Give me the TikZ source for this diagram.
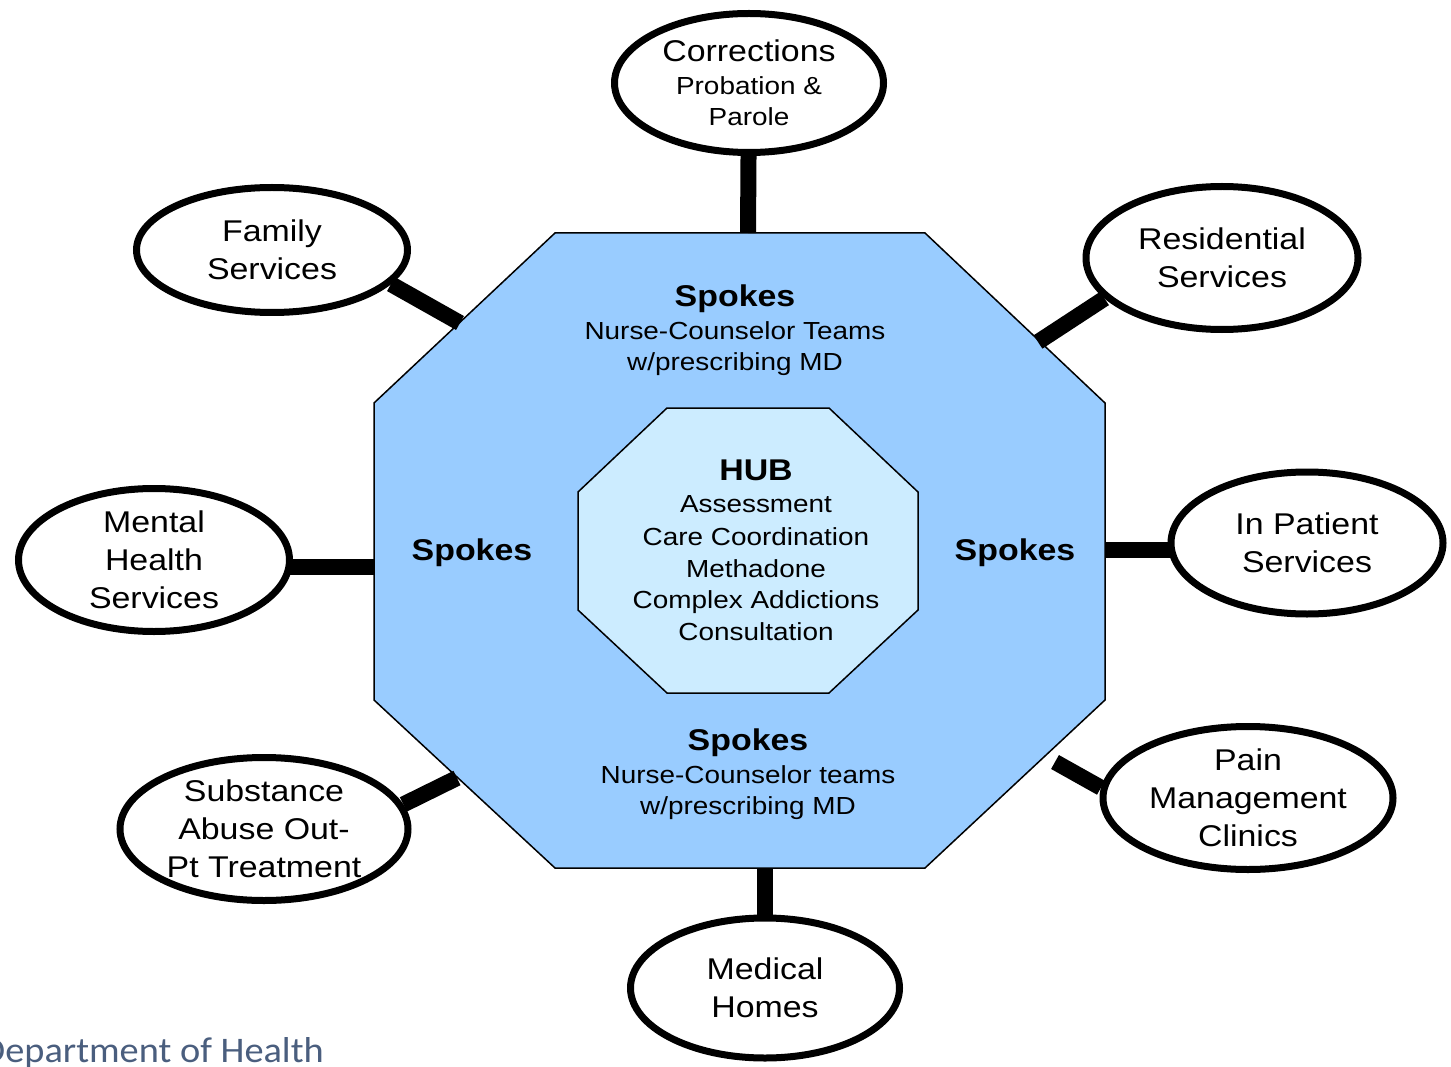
\documentclass[tikz,border=0pt]{standalone}
\usepackage{fontspec}
\setmainfont{Liberation Sans}[FakeStretch=1.13]
\newfontfamily\calfont{Carlito}[FakeStretch=1.065]
\usetikzlibrary{shapes.geometric}
\pgfdeclarelayer{background}
\pgfsetlayers{background,main}
\definecolor{outerblue}{RGB}{153,204,255}
\definecolor{innerblue}{RGB}{204,236,255}
\definecolor{deptgray}{RGB}{74,94,126}
\newcommand{\fs}[2]{\fontsize{#1}{#2}\selectfont}
\begin{document}
\begin{tikzpicture}[x=1pt,y=-1pt,
  svc/.style={ellipse,draw=black,line width=7pt,fill=white,inner sep=0pt,align=center,font=\fs{30}{38}},
  spoke/.style={line width=16pt},
  oct/.style={draw=black,line width=1.5pt},
  title/.style={anchor=base,inner sep=0pt,font=\fs{30}{36}\bfseries},
  body/.style={anchor=base,inner sep=0pt,font=\fs{24.7}{31}}]
\useasboundingbox (0,0) rectangle (1451,1067);

% service ellipses
\node[svc,minimum width=269pt,minimum height=139pt,font=\fs{24.7}{31}] (corr) at (749,83)
  {{\fs{30}{36}Corrections}\\[2pt]Probation \&\\Parole};
\node[svc,minimum width=271pt,minimum height=125pt] (fam) at (272,250) {Family\\Services};
\node[svc,minimum width=272pt,minimum height=143pt] (res) at (1222,258) {Residential\\Services};
\node[svc,minimum width=271pt,minimum height=143pt] (mh) at (154,560) {Mental\\Health\\Services};
\node[svc,minimum width=272pt,minimum height=142pt] (ip) at (1307,543) {In Patient\\Services};
\node[svc,minimum width=288pt,minimum height=143pt] (sub) at (264,829) {Substance\\Abuse Out-\\Pt Treatment};
\node[svc,minimum width=290pt,minimum height=143pt] (pain) at (1248,798) {Pain\\Management\\Clinics};
\node[svc,minimum width=269pt,minimum height=140pt] (med) at (765,988) {Medical\\Homes};

% connector end points on the spokes octagon
\coordinate (corrE) at (748,233);
\coordinate (famE) at (460,323);
\coordinate (resE) at (1038,342);
\coordinate (mhE) at (374,567);
\coordinate (ipE) at (1105,550);
\coordinate (subE) at (457,778);
\coordinate (painE) at (1055,762);
\coordinate (medE) at (765,868);

\begin{pgfonlayer}{background}
\draw[oct,fill=outerblue] (555,233) -- (925,233) -- (1105,403) -- (1105,700) -- (925,868)
  -- (555,868) -- (374,700) -- (374,403) -- cycle;
\draw[spoke] (corr.center) -- (corrE);
\draw[spoke] (fam.-16) -- (famE);
\draw[spoke] (res.-161) -- (resE);
\draw[spoke] (mh.center |- mhE) -- (mhE);
\draw[spoke] (ip.center |- ipE) -- (ipE);
\draw[spoke] (sub.10) -- (subE);
\draw[spoke] (pain.176) -- (painE);
\draw[spoke] (med.center) -- (medE);
\end{pgfonlayer}

% hub octagon
\draw[oct,fill=innerblue] (667,408) -- (829,408) -- (918,492) -- (918,610) -- (829,693)
  -- (667,693) -- (578,610) -- (578,492) -- cycle;

% spokes labels
\node[title] (spT) at (735,306) {Spokes};
\node[body] (spT1) at (735,339) {Nurse-Counselor Teams};
\node[body] (spT2) at (735,370) {w/prescribing MD};
\node[title] (spL) at (472,560) {Spokes};
\node[title] (spR) at (1015,560) {Spokes};
\node[title] (spB) at (748,750) {Spokes};
\node[body] (spB1) at (748,783) {Nurse-Counselor teams};
\node[body] (spB2) at (748,814) {w/prescribing MD};

% hub labels
\node[title] (hub) at (756,480) {HUB};
\foreach \t/\y [count=\i] in {Assessment/512,Care Coordination/545,Methadone/577,Complex Addictions/608,Consultation/640}
  \node[body] (hub\i) at (756,\y) {\t};

\node[anchor=base east,inner sep=0pt,font=\calfont\fs{36}{40},text=deptgray] (dept) at (324,1062) {Department of Health};
\end{tikzpicture}
\end{document}
